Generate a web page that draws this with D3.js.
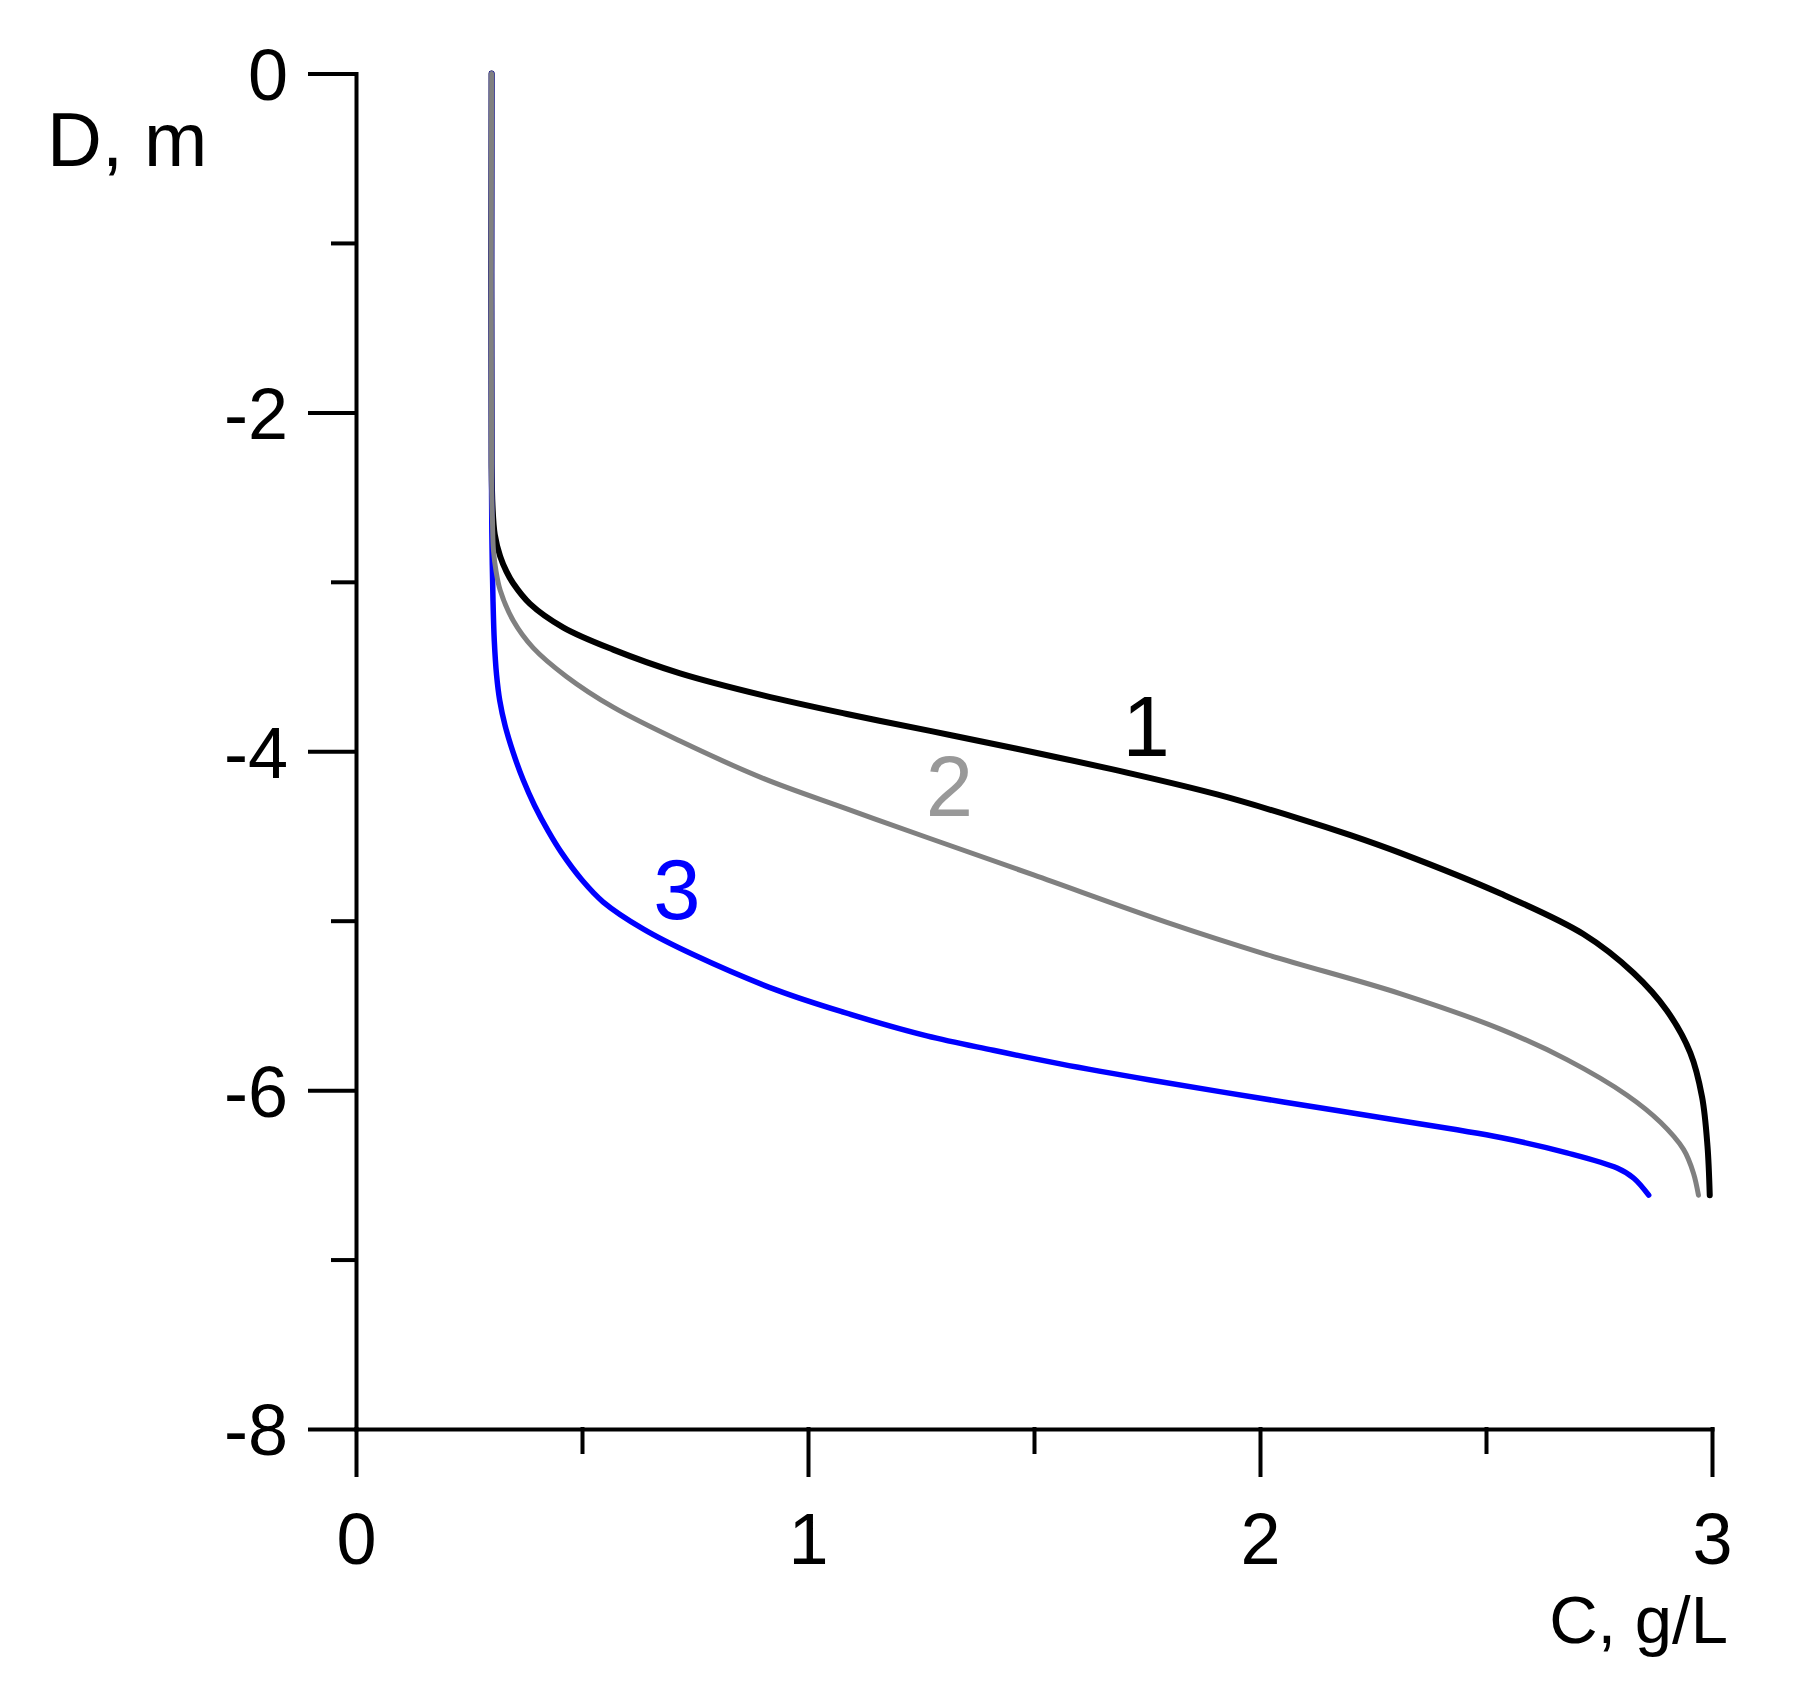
<!DOCTYPE html>
<html>
<head>
<meta charset="utf-8">
<script src="https://cdn.jsdelivr.net/npm/d3@7"></script>
<style>
  html, body { margin: 0; padding: 0; background: #fff; }
  svg { display: block; font-family: "Liberation Sans", Arial, sans-serif; }
</style>
</head>
<body>
<svg id="chart" width="1796" height="1696"></svg>
<script>
// ---- data ----
const xMajorTicks = [0, 1, 2, 3];
const xMinorTicks = [0.5, 1.5, 2.5];
const yMajorTicks = [0, -2, -4, -6, -8];
const yMinorTicks = [-1, -3, -5, -7];
const xTitle = "C, g/L";
const yTitle = "D, m";

const curve1C = [0.3, 0.3, 0.302, 0.307, 0.319, 0.333, 0.348, 0.385, 0.459, 0.569, 0.717, 0.901, 1.086, 1.27, 1.462, 1.72, 1.905, 2.09, 2.2, 2.31, 2.532, 2.716, 2.827, 2.9, 2.952, 2.978, 2.99, 2.995];
const curve1D = [0, -2.3, -2.55, -2.72, -2.85, -2.94, -3.01, -3.13, -3.27, -3.40, -3.54, -3.67, -3.78, -3.88, -3.985, -4.135, -4.255, -4.40, -4.495, -4.60, -4.84, -5.08, -5.31, -5.53, -5.78, -6.04, -6.33, -6.62];

const curve2C = [0.3, 0.3, 0.302, 0.304, 0.31, 0.319, 0.348, 0.392, 0.466, 0.569, 0.717, 0.901, 1.086, 1.27, 1.499, 1.794, 2.015, 2.31, 2.532, 2.679, 2.812, 2.886, 2.937, 2.959, 2.97];
const curve2D = [0, -2.4, -2.65, -2.81, -2.94, -3.05, -3.23, -3.39, -3.56, -3.74, -3.94, -4.16, -4.34, -4.515, -4.73, -5.01, -5.20, -5.43, -5.64, -5.82, -6.03, -6.19, -6.35, -6.49, -6.62];

const curve3C = [0.3, 0.3, 0.301, 0.303, 0.306, 0.311, 0.318, 0.33, 0.348, 0.37, 0.395, 0.425, 0.455, 0.5, 0.547, 0.636, 0.746, 0.931, 1.078, 1.263, 1.41, 1.558, 1.757, 2.052, 2.273, 2.532, 2.679, 2.79, 2.827, 2.86];
const curve3D = [0, -2.5, -2.8, -3.1, -3.35, -3.55, -3.70, -3.85, -4.01, -4.17, -4.32, -4.47, -4.60, -4.76, -4.89, -5.05, -5.20, -5.41, -5.54, -5.68, -5.765, -5.845, -5.94, -6.07, -6.165, -6.28, -6.37, -6.46, -6.52, -6.62];

const curveNames = ["1", "2", "3"];
const curveColors = ["#000000", "#808080", "#0000ff"];
const labelColors = ["#000000", "#999999", "#0000ff"];

// ---- layout ----
const svg = d3.select("#chart");
const x = d3.scaleLinear().domain([0, 3]).range([356, 1712]);
const y = d3.scaleLinear().domain([0, -8]).range([73.5, 1429]);
const fmt = d => String(d);

// axes
const gxMinor = svg.append("g").attr("transform", `translate(0,${y(-8)})`)
  .call(d3.axisBottom(x).tickValues(xMinorTicks).tickSize(23).tickFormat(""));
const gyMinor = svg.append("g").attr("transform", `translate(${x(0)},0)`)
  .call(d3.axisLeft(y).tickValues(yMinorTicks).tickSize(23).tickFormat(""));
[gxMinor, gyMinor].forEach(g => g.select(".domain").remove());

const gx = svg.append("g").attr("transform", `translate(0,${y(-8)})`)
  .call(d3.axisBottom(x).tickValues(xMajorTicks).tickSize(46).tickSizeOuter(0).tickFormat(fmt));
const gy = svg.append("g").attr("transform", `translate(${x(0)},0)`)
  .call(d3.axisLeft(y).tickValues(yMajorTicks).tickSize(46).tickSizeOuter(0).tickFormat(fmt));

svg.selectAll(".domain, .tick line")
  .attr("stroke", "#000").attr("stroke-width", 4).attr("stroke-linecap", "square");

gx.selectAll(".tick text")
  .attr("y", 135).attr("dy", null)
  .attr("font-size", 72).attr("fill", "#000").attr("font-family", "Liberation Sans, Arial, sans-serif");
gy.selectAll(".tick text")
  .attr("x", -68).attr("dy", "0.36em")
  .attr("font-size", 72).attr("fill", "#000").attr("font-family", "Liberation Sans, Arial, sans-serif");

// axis titles
svg.append("text").attr("x", 47).attr("y", 166)
  .attr("font-size", 76).attr("fill", "#000").text(yTitle);
svg.append("text").attr("x", 1728).attr("y", 1643).attr("text-anchor", "end")
  .attr("font-size", 67).attr("fill", "#000").text(xTitle);

// curves
const line = d3.line()
  .x(d => x(d[0])).y(d => y(d[1]))
  .curve(d3.curveCatmullRom.alpha(0.5));

const series = [
  { name: curveNames[0], pts: d3.zip(curve1C, curve1D), color: curveColors[0], w: 6 },
  { name: curveNames[2], pts: d3.zip(curve3C, curve3D), color: curveColors[2], w: 5.5 },
  { name: curveNames[1], pts: d3.zip(curve2C, curve2D), color: curveColors[1], w: 5 }
];
series.forEach(s => {
  svg.append("path").datum(s.pts)
    .attr("d", line)
    .attr("fill", "none")
    .attr("stroke", s.color)
    .attr("stroke-width", s.w)
    .attr("stroke-linecap", "round")
    .attr("stroke-linejoin", "round");
});

// curve labels (placed in data coords)
const labelPos = [[1.748, -4.03], [1.313, -4.38], [0.71, -4.99]];
labelPos.forEach((p, i) => {
  svg.append("text")
    .attr("x", x(p[0])).attr("y", y(p[1]))
    .attr("text-anchor", "middle")
    .attr("font-size", 85)
    .attr("fill", labelColors[i])
    .text(curveNames[i]);
});
</script>
</body>
</html>
